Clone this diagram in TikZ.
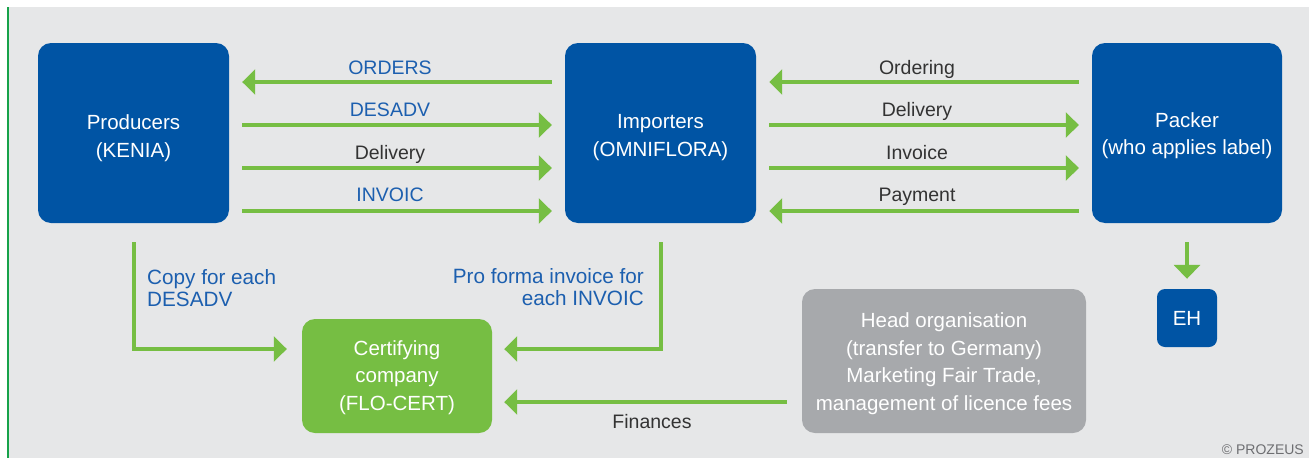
\documentclass[tikz,border=0pt]{standalone}
\usepackage{fontspec}
\setmainfont{Liberation Sans}
\usetikzlibrary{arrows.meta,calc}
\definecolor{bg}{RGB}{230,231,232}
\definecolor{boxblue}{RGB}{0,84,164}
\definecolor{agreen}{RGB}{118,190,67}
\definecolor{lgreen}{RGB}{23,162,74}
\definecolor{hgray}{RGB}{167,169,172}
\definecolor{lblue}{RGB}{28,95,175}
\definecolor{ltext}{RGB}{51,51,51}
\definecolor{cgray}{RGB}{109,110,113}
\newcommand\mainfs{\fontsize{19.5}{27}\selectfont}
\newcommand\boxfs{\fontsize{20.5}{27.5}\selectfont}
\newcommand\notefs{\fontsize{20.7}{22.5}\selectfont}
\begin{document}
\begin{tikzpicture}[x=1pt,y=-1pt,
  box/.style={rectangle, rounded corners=13pt, inner sep=0pt, align=center, text=white, font=\boxfs},
  arr/.style={draw=agreen, line width=4pt, -{Triangle[length=13pt,width=25pt]}},
  lbl/.style={font=\mainfs, inner sep=0pt, anchor=base},
  note/.style={font=\notefs, inner sep=0pt, text=lblue}]
\useasboundingbox (0,0) rectangle (1311,458);
\fill[bg] (9,7) rectangle (1309,458);
\fill[lgreen] (7,7) rectangle (9,458);

\node[box, fill=boxblue, minimum width=191pt, minimum height=180pt] (prod) at (133.5,133) {\rule{0pt}{25pt}Producers\\(KENIA)};
\node[box, fill=boxblue, minimum width=191pt, minimum height=180pt] (imp) at (660.5,133) {\rule{0pt}{23pt}Importers\\(OMNIFLORA)};
\node[box, fill=boxblue, minimum width=190pt, minimum height=180pt] (pack) at (1187,133) {\rule{0pt}{20pt}Packer\\(who applies label)};
\node[box, fill=agreen, minimum width=190pt, minimum height=114pt] (cert) at (397,376) {\rule{0pt}{18pt}Certifying\\company\\(FLO-CERT)};
\node[box, fill=hgray, minimum width=284pt, minimum height=144pt] (head) at (944,361) {\rule{0pt}{20pt}Head organisation\\(transfer to Germany)\\Marketing Fair Trade,\\management of licence fees};
\node[box, fill=boxblue, rounded corners=8pt, minimum width=60pt, minimum height=58pt] (eh) at (1187,318) {EH};

% producers <-> importers
\draw[arr] ([xshift=-13pt,yshift=51pt]imp.west) -- ([xshift=13pt,yshift=51pt]prod.east);
\draw[arr] ([xshift=13pt,yshift=8pt]prod.east) -- ([xshift=-13pt,yshift=8pt]imp.west);
\draw[arr] ([xshift=13pt,yshift=-35pt]prod.east) -- ([xshift=-13pt,yshift=-35pt]imp.west);
\draw[arr] ([xshift=13pt,yshift=-78pt]prod.east) -- ([xshift=-13pt,yshift=-78pt]imp.west);
\node[lbl, text=lblue] (l1) at (390,74) {ORDERS};
\node[lbl, text=lblue] (l2) at (390,116) {DESADV};
\node[lbl, text=ltext] (l3) at (390,159) {Delivery};
\node[lbl, text=lblue] (l4) at (390,201) {INVOIC};

% importers <-> packer
\draw[arr] ([xshift=-13pt,yshift=51pt]pack.west) -- ([xshift=13pt,yshift=51pt]imp.east);
\draw[arr] ([xshift=13pt,yshift=8pt]imp.east) -- ([xshift=-13pt,yshift=8pt]pack.west);
\draw[arr] ([xshift=13pt,yshift=-35pt]imp.east) -- ([xshift=-13pt,yshift=-35pt]pack.west);
\draw[arr] ([xshift=-13pt,yshift=-78pt]pack.west) -- ([xshift=13pt,yshift=-78pt]imp.east);
\node[lbl, text=ltext] (r1) at (917,74) {Ordering};
\node[lbl, text=ltext] (r2) at (917,116) {Delivery};
\node[lbl, text=ltext] (r3) at (917,159) {Invoice};
\node[lbl, text=ltext] (r4) at (917,201) {Payment};

% down connectors
\draw[arr] ([yshift=-19pt]prod.south) |- ([xshift=-15pt,yshift=27pt]cert.west);
\draw[arr] ([yshift=-19pt]imp.south) |- ([xshift=12pt,yshift=27pt]cert.east);
\coordinate (fin) at ([xshift=12pt,yshift=-26pt]cert.east);
\draw[arr] ($(head.west|-fin)+(-15,0)$) -- (fin);
\draw[arr, -{Triangle[length=14pt,width=26pt]}] ([yshift=-19pt]pack.south) -- ([yshift=10pt]eh.north);

\node[note, anchor=west, align=left] (copy) at (147,288) {Copy for each\\DESADV};
\node[note, anchor=east, align=right] (pro) at (644,287) {Pro forma invoice for\\each INVOIC};
\node[lbl, text=ltext] (fl) at (652,428) {Finances};
\node[font=\fontsize{14}{16}\selectfont, text=cgray, inner sep=0pt, anchor=base east] (copyr) at (1304,454) {© PROZEUS};
\end{tikzpicture}
\end{document}
